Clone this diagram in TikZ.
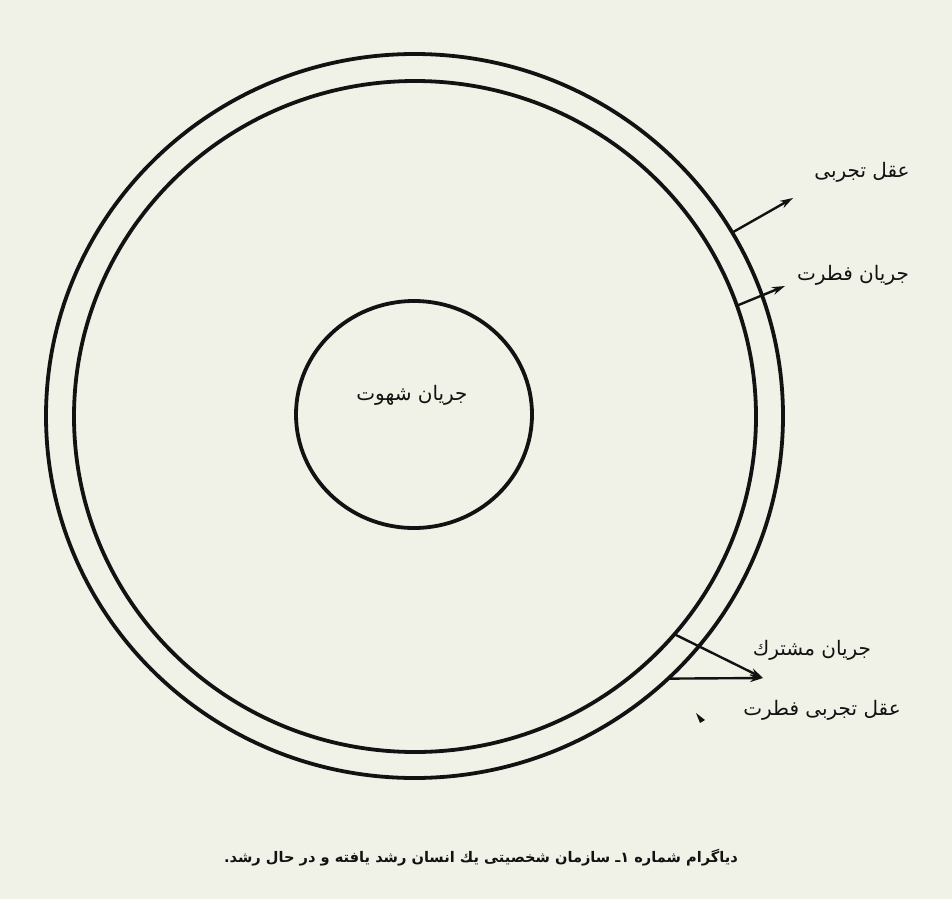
\documentclass[tikz,border=0pt]{standalone}
\usepackage{fontspec}
\usetikzlibrary{shapes.geometric,arrows.meta}
\TeXXeTstate=1
\newfontfamily\arabicfont[Script=Arabic]{DejaVu Sans}
\definecolor{paper}{RGB}{240,242,232}
\definecolor{ink}{RGB}{18,18,18}
\begin{document}
\begin{tikzpicture}[x=1pt,y=-1pt,
  ring/.style={draw=ink, line width=3.8pt, ellipse, inner sep=0pt, outer sep=0pt},
  lbl/.style={font=\arabicfont\fontsize{20}{24}\selectfont, text=ink, inner sep=0pt},
  pointer/.style={draw=ink, line width=2.4pt, -{Stealth[length=13pt,width=8pt]}}]
\fill[paper] (0,0) rectangle (952,899);
\useasboundingbox (0,0) rectangle (952,899);
\node[ring, minimum width=737pt, minimum height=724pt] (outer) at (414.5,416) {};
\node[ring, minimum width=682pt, minimum height=671pt] (inner) at (415,416.5) {};
\node[ring, minimum width=236pt, minimum height=227pt] (core) at (414,414.5) {};
\node[lbl] (tcore) at (412,395) {\beginR جریان شهوت\endR};
\node[lbl] (t1) at (862,172) {\beginR عقل تجربی\endR};
\node[lbl] (t2) at (853,275) {\beginR جریان فطرت\endR};
\node[lbl] (t3) at (812,650) {\beginR جریان مشترك\endR};
\node[lbl] (t4) at (822,710) {\beginR عقل تجربی فطرت\endR};
\node[lbl, font=\arabicfont\bfseries\fontsize{14.6}{17}\selectfont] (cap) at (481,858) {\beginR دیاگرام شماره ۱ـ سازمان شخصیتی یك انسان رشد یافته و در حال رشد.\endR};
\coordinate (e1) at (793,198);
\coordinate (e2) at (785,286);
\coordinate (e3) at (763,678);
\draw[pointer] (outer.30) -- (e1);
\draw[pointer] (inner.19) -- (e2);
\draw[pointer] (inner.-40) -- (e3);
\draw[pointer] (outer.-46) -- (e3);
\fill[ink] (696,713) -- (705,720) -- (700,723) -- cycle;
\end{tikzpicture}
\end{document}
